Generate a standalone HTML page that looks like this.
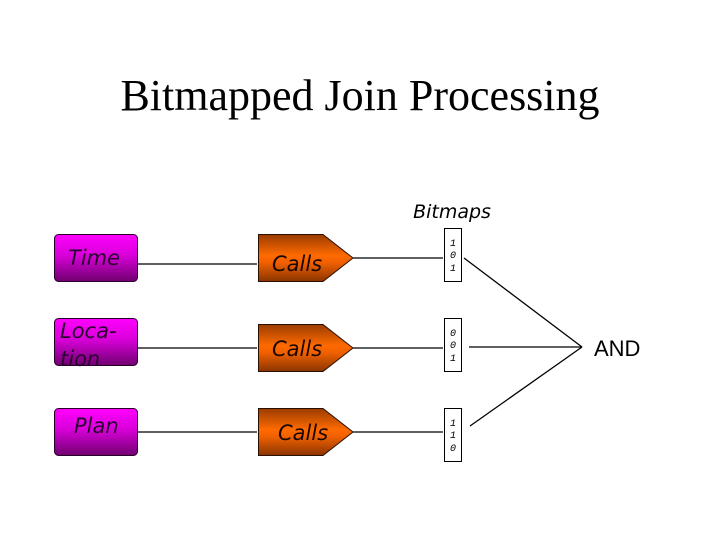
<!DOCTYPE html>
<html><head><style>
body{margin:0;background:#fff;}
</style></head><body>
<svg width="720" height="540" xmlns="http://www.w3.org/2000/svg" style="display:block">
<defs>
<linearGradient id="p" x1="0" y1="0" x2="0" y2="1">
<stop offset="0" stop-color="#ff00ff"/><stop offset="0.45" stop-color="#d800d8"/><stop offset="1" stop-color="#700070"/>
</linearGradient>
<linearGradient id="o" x1="0" y1="0" x2="0" y2="1">
<stop offset="0" stop-color="#9a3c00"/><stop offset="0.45" stop-color="#ff6a00"/><stop offset="0.6" stop-color="#f06000"/><stop offset="1" stop-color="#8a3400"/>
</linearGradient>
</defs>
<text x="360" y="110" text-anchor="middle" font-family="Liberation Serif, serif" font-size="44">Bitmapped Join Processing</text>
<text x="452" y="218" text-anchor="middle" font-family="DejaVu Sans, sans-serif" font-style="italic" font-size="19">Bitmaps</text>
<g stroke="#000" stroke-width="1.3">
<line x1="138" y1="264" x2="257" y2="264"/>
<line x1="138" y1="348" x2="257" y2="348"/>
<line x1="138" y1="432" x2="257" y2="432"/>
<line x1="353" y1="258" x2="443" y2="258"/>
<line x1="353" y1="348" x2="443" y2="348"/>
<line x1="353" y1="432" x2="443" y2="432"/>
<line x1="464" y1="258" x2="582" y2="347"/>
<line x1="469" y1="347" x2="582" y2="347"/>
<line x1="470" y1="426" x2="582" y2="347"/>
</g>
<g stroke="#2a002a" stroke-width="1">
<rect x="54.5" y="234.5" width="83" height="47" rx="4" fill="url(#p)"/>
<rect x="54.5" y="318.5" width="83" height="47" rx="4" fill="url(#p)"/>
<rect x="54.5" y="408.5" width="83" height="47" rx="4" fill="url(#p)"/>
</g>
<g stroke="#2a1000" stroke-width="1">
<polygon points="258.5,234.5 323,234.5 353,258 323,281.5 258.5,281.5" fill="url(#o)"/>
<polygon points="258.5,324.5 323,324.5 353,348 323,371.5 258.5,371.5" fill="url(#o)"/>
<polygon points="258.5,408.5 323,408.5 353,432 323,455.5 258.5,455.5" fill="url(#o)"/>
</g>
<g font-family="DejaVu Sans, sans-serif" font-style="italic" font-size="21" fill="#2a0030">
<text x="68" y="265">Time</text>
<text x="60" y="338">Loca-</text>
<text x="60" y="366">tion</text>
<text x="74" y="433">Plan</text>
</g>
<g font-family="DejaVu Sans, sans-serif" font-style="italic" font-size="21" fill="#1a0800">
<text x="272" y="271">Calls</text>
<text x="272" y="356">Calls</text>
<text x="278" y="440">Calls</text>
</g>
<g fill="#fff" stroke="#000" stroke-width="1">
<rect x="444.5" y="228.5" width="17" height="53"/>
<rect x="444.5" y="318.5" width="17" height="53"/>
<rect x="444.5" y="408.5" width="17" height="53"/>
</g>
<g font-family="Liberation Mono, monospace" font-style="italic" font-size="10" text-anchor="middle">
<text x="453" y="246">1</text><text x="453" y="258">0</text><text x="453" y="271">1</text>
<text x="453" y="336">0</text><text x="453" y="348">0</text><text x="453" y="361">1</text>
<text x="453" y="426">1</text><text x="453" y="438">1</text><text x="453" y="451">0</text>
</g>
<text x="594" y="356" font-family="Liberation Sans, sans-serif" font-size="22">AND</text>
</svg>
</body></html>
